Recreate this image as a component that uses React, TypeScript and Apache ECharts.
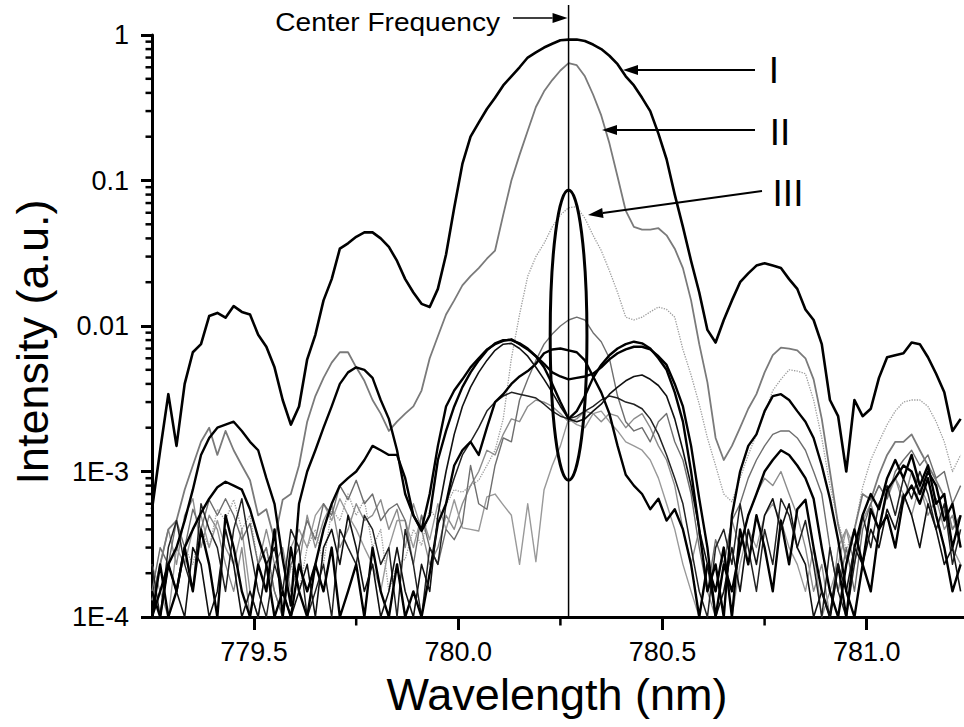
import React, { useEffect, useRef } from 'react';
import * as echarts from 'echarts';

// Sampling grid of the spectra (nm)
const WL_START = 779.25;
const WL_STEP = 0.02;
const WAVELENGTHS = Array.from({ length: 100 }, (_, i) => +(WL_START + WL_STEP * i).toFixed(2));

const CENTER_WL = 780.27;
const X_MIN = 779.25;
const X_MAX = 781.25;
const Y_MIN = 1e-4;
const Y_MAX = 1;
const Y_TICK_LABELS: Record<string, string> = { '0': '1', '-1': '0.1', '-2': '0.01', '-3': '1E-3', '-4': '1E-4' };
const X_MINOR_TICKS = [779.75, 780.25, 780.75];

// Curve I (thick black)
const I_VALUES = [
  5.5e-4, 1.4e-3, 3.4e-3, 1.5e-3, 4e-3, 6.6e-3, 7.5e-3, 0.0117, 0.0123, 0.0114,
  0.0137, 0.0125, 0.012, 0.0087, 0.0072, 0.0052, 0.0031, 0.0021, 0.0028, 0.0059,
  0.0087, 0.015, 0.021, 0.034, 0.037, 0.041, 0.044, 0.044, 0.04, 0.035,
  0.028, 0.021, 0.017, 0.0142, 0.0135, 0.018, 0.031, 0.065, 0.13, 0.2,
  0.25, 0.31, 0.37, 0.45, 0.52, 0.6, 0.7, 0.76, 0.82, 0.87,
  0.92, 0.93, 0.93, 0.91, 0.86, 0.8, 0.72, 0.63, 0.52, 0.45,
  0.37, 0.3, 0.21, 0.14, 0.08, 0.048, 0.028, 0.017, 0.0094, 0.0077,
  0.011, 0.015, 0.02, 0.023, 0.026, 0.027, 0.026, 0.025, 0.021, 0.018,
  0.013, 0.011, 0.0075, 0.0031, 0.0024, 0.001, 0.0031, 0.0024, 0.0027, 0.0044,
  0.0061, 0.0063, 0.0065, 0.0077, 0.0075, 0.0061, 0.0047, 0.0035, 0.0019, 0.0023,
];

// Curve II (grey)
const II_VALUES = [
  1.3e-4, 2.3e-4, 4e-4, 4.6e-4, 7.5e-4, 1.1e-3, 1.6e-3, 2e-3, 1.3e-3, 1.9e-3,
  1.4e-3, 1.1e-3, 8.7e-4, 5e-4, 5.5e-4, 3.4e-4, 6.4e-4, 7e-4, 1.1e-3, 2.2e-3,
  3.3e-3, 4.4e-3, 5.6e-3, 6.6e-3, 6.6e-3, 5.2e-3, 4.2e-3, 3.1e-3, 2.5e-3, 1.9e-3,
  2.2e-3, 2.5e-3, 2.8e-3, 3.6e-3, 6e-3, 8.5e-3, 0.012, 0.015, 0.019, 0.022,
  0.025, 0.029, 0.033, 0.058, 0.1, 0.15, 0.22, 0.32, 0.41, 0.49,
  0.57, 0.64, 0.62, 0.52, 0.39, 0.28, 0.18, 0.106, 0.062, 0.048,
  0.046, 0.046, 0.047, 0.042, 0.034, 0.025, 0.015, 0.0075, 0.0041, 0.0017,
  0.0012, 0.0015, 0.002, 0.0027, 0.0034, 0.0048, 0.0063, 0.0071, 0.007, 0.0068,
  0.006, 0.0043, 0.0023, 0.001, 4.3e-4, 2.5e-4, 4e-4, 7e-4, 6.4e-4, 9.5e-4,
  1.3e-3, 1.6e-3, 1.6e-3, 1.8e-3, 1.4e-3, 1.1e-3, 8.7e-4, 6.7e-4, 4e-4, 5e-4,
];

// Dotted light grey curve
const D_VALUES = [
  1e-4, 1.5e-4, 2.3e-4, 1.5e-4, 3e-4, 2.3e-4, 4e-4, 3e-4, 5.5e-4, 4.6e-4,
  6.4e-4, 4e-4, 5e-4, 2.3e-4, 3e-4, 1.5e-4, 1e-4, 2.3e-4, 1.5e-4, 3e-4,
  4e-4, 2.3e-4, 5.5e-4, 4.6e-4, 7e-4, 5e-4, 6.4e-4, 3e-4, 4e-4, 1.5e-4,
  2.3e-4, 2.5e-4, 4e-4, 3.1e-4, 5.5e-4, 4.6e-4, 5.9e-4, 7.5e-4, 7.2e-4, 8e-4,
  8.7e-4, 1.1e-3, 1.4e-3, 2.3e-3, 6e-3, 0.012, 0.022, 0.03, 0.037, 0.048,
  0.058, 0.065, 0.066, 0.055, 0.042, 0.033, 0.024, 0.017, 0.0115, 0.011,
  0.0115, 0.0125, 0.0135, 0.013, 0.0115, 0.0069, 0.0046, 0.0029, 0.0017, 0.0011,
  7e-4, 6.2e-4, 9e-4, 1.3e-3, 1.8e-3, 2.5e-3, 3.6e-3, 4.3e-3, 5e-3, 4.9e-3,
  4.7e-3, 3.1e-3, 1.7e-3, 8e-4, 4.5e-4, 2.9e-4, 4e-4, 7.8e-4, 1.2e-3, 1.6e-3,
  2.1e-3, 2.6e-3, 3e-3, 3.1e-3, 3.1e-3, 2.8e-3, 2.2e-3, 1.6e-3, 1e-3, 1.3e-3,
];

// Thick black curve with V-shaped centre dip
const K1_VALUES = [
  1e-4, 1.5e-4, 2.3e-4, 3e-4, 4.6e-4, 7.5e-4, 1.3e-3, 1.7e-3, 2e-3, 2.1e-3,
  2.2e-3, 1.9e-3, 1.6e-3, 1.4e-3, 9e-4, 6e-4, 2.5e-4, 1.2e-4, 6e-4, 1e-3,
  1.4e-3, 2e-3, 2.8e-3, 4e-3, 4.8e-3, 5.2e-3, 5e-3, 4.4e-3, 3.1e-3, 2.3e-3,
  1.4e-3, 7e-4, 5e-4, 4e-4, 7e-4, 1.5e-3, 2.8e-3, 3.6e-3, 4.3e-3, 5.2e-3,
  6e-3, 6.9e-3, 7.5e-3, 7.9e-3, 8.1e-3, 7.5e-3, 6.9e-3, 6.2e-3, 5.2e-3, 4e-3,
  3e-3, 2.3e-3, 2.6e-3, 3.3e-3, 4.4e-3, 5.4e-3, 6.3e-3, 7e-3, 7.5e-3, 7.8e-3,
  7.6e-3, 7e-3, 6e-3, 5e-3, 3.5e-3, 2.2e-3, 1e-3, 4e-4, 1.5e-4, 2.3e-4,
  1e-4, 5e-4, 1e-3, 1.5e-3, 1.8e-3, 2.6e-3, 3.3e-3, 3.4e-3, 3.1e-3, 2.6e-3,
  2.2e-3, 1.7e-3, 1.1e-3, 6.5e-4, 3.4e-4, 1.5e-4, 1e-4, 2.3e-4, 1.5e-4, 4e-4,
  5e-4, 3e-4, 6.5e-4, 8e-4, 6e-4, 9e-4, 5e-4, 3e-4, 1.5e-4, 2.3e-4,
];

// Thick black curve with flat centre
const K2_VALUES = [
  1.5e-4, 1e-4, 2.3e-4, 1.5e-4, 3e-4, 4e-4, 5.2e-4, 6.5e-4, 7.8e-4, 8.5e-4,
  8e-4, 7.5e-4, 5.5e-4, 3.5e-4, 2.3e-4, 1e-4, 1.5e-4, 1e-4, 2.3e-4, 1.5e-4,
  2.3e-4, 4e-4, 6e-4, 8e-4, 9e-4, 1e-3, 1.2e-3, 1.5e-3, 1.4e-3, 1.3e-3,
  1.3e-3, 9e-4, 5e-4, 3.9e-4, 5e-4, 1.2e-3, 1.9e-3, 2.8e-3, 3.8e-3, 4.8e-3,
  5.8e-3, 6.8e-3, 7.6e-3, 8e-3, 8e-3, 7.6e-3, 7e-3, 6.2e-3, 5.5e-3, 4.8e-3,
  4.5e-3, 4.3e-3, 4.4e-3, 4.5e-3, 4.7e-3, 5.2e-3, 5.9e-3, 6.5e-3, 6.9e-3, 7.2e-3,
  7.2e-3, 6.9e-3, 6.2e-3, 5.4e-3, 4e-3, 2.8e-3, 1.5e-3, 6.5e-4, 3e-4, 1e-4,
  2.3e-4, 1.5e-4, 3e-4, 5e-4, 7e-4, 1e-3, 1.2e-3, 1.4e-3, 1.3e-3, 1.1e-3,
  9e-4, 6.5e-4, 3e-4, 1.5e-4, 1e-4, 2.3e-4, 4e-4, 2.3e-4, 5.5e-4, 4e-4,
  7.5e-4, 9e-4, 1.1e-3, 1e-3, 7e-4, 1e-3, 8e-4, 4.6e-4, 6e-4, 3e-4,
];

// Thick black curve with centre bump
const K3_VALUES = [
  1e-4, 2.3e-4, 1e-4, 1.5e-4, 3e-4, 1.5e-4, 4e-4, 2.3e-4, 1e-4, 5e-4,
  3e-4, 1.5e-4, 1e-4, 2.3e-4, 1.5e-4, 4e-4, 1e-4, 3e-4, 1.5e-4, 1e-4,
  2.3e-4, 1.5e-4, 3e-4, 1e-4, 1.5e-4, 2.3e-4, 1e-4, 3e-4, 1.5e-4, 1e-4,
  2.3e-4, 1e-4, 1.5e-4, 1e-4, 2e-4, 4.4e-4, 6e-4, 1.1e-3, 1.4e-3, 1.6e-3,
  1.3e-3, 2e-3, 3e-3, 3.4e-3, 4e-3, 4.5e-3, 4.9e-3, 5.5e-3, 6.5e-3, 6.9e-3,
  7e-3, 6.8e-3, 6.6e-3, 5.8e-3, 4.5e-3, 3.5e-3, 2.5e-3, 1.5e-3, 9.5e-4, 8e-4,
  7e-4, 5.5e-4, 6.5e-4, 4.6e-4, 5.5e-4, 4e-4, 2.3e-4, 1e-4, 2.3e-4, 1.5e-4,
  3e-4, 1e-4, 4e-4, 2.3e-4, 5e-4, 3e-4, 1.5e-4, 4.6e-4, 2.3e-4, 5.5e-4,
  6.4e-4, 3e-4, 1.5e-4, 1e-4, 2.3e-4, 1e-4, 3e-4, 5e-4, 7e-4, 5.5e-4,
  9e-4, 1.2e-3, 9e-4, 1.3e-3, 8e-4, 1.1e-3, 6e-4, 7e-4, 3e-4, 5e-4,
];

// Thinner black curve, centre dip
const K4_VALUES = [
  1e-4, 1e-4, 2.3e-4, 1.5e-4, 1e-4, 3e-4, 2.3e-4, 1e-4, 1.5e-4, 4e-4,
  2.3e-4, 1e-4, 1.5e-4, 1e-4, 2.3e-4, 3e-4, 1.5e-4, 1e-4, 1.5e-4, 2.3e-4,
  1e-4, 3e-4, 4e-4, 2.3e-4, 5e-4, 3e-4, 1.5e-4, 2.3e-4, 1e-4, 1.5e-4,
  3e-4, 1.5e-4, 1e-4, 2.3e-4, 1.5e-4, 5e-4, 1e-3, 1.8e-3, 2.8e-3, 3.8e-3,
  4.8e-3, 5.8e-3, 6.8e-3, 7.5e-3, 7.6e-3, 7e-3, 6.2e-3, 5.2e-3, 4.3e-3, 3.5e-3,
  2.8e-3, 2.3e-3, 2.2e-3, 2.3e-3, 2.6e-3, 2.9e-3, 3.4e-3, 3.8e-3, 4.2e-3, 4.5e-3,
  4.6e-3, 4.3e-3, 3.9e-3, 3.3e-3, 2.3e-3, 1.4e-3, 8e-4, 4e-4, 2.3e-4, 1e-4,
  1.5e-4, 3e-4, 1.5e-4, 4e-4, 2.3e-4, 5e-4, 6.5e-4, 4e-4, 6e-4, 3e-4,
  2.3e-4, 1e-4, 1.5e-4, 1e-4, 2.3e-4, 1.5e-4, 3e-4, 2.3e-4, 4e-4, 3e-4,
  5.5e-4, 4e-4, 7e-4, 5e-4, 3e-4, 6e-4, 4e-4, 2.3e-4, 3e-4, 1.5e-4,
];

// Thin grey curve with centre peak
const T1_VALUES = [
  1.5e-4, 3e-4, 2.3e-4, 4.6e-4, 3e-4, 5.5e-4, 4e-4, 6.4e-4, 5e-4, 6.5e-4,
  5e-4, 3.4e-4, 4.4e-4, 2.3e-4, 3e-4, 1.5e-4, 1e-4, 2.3e-4, 3e-4, 4.6e-4,
  3.4e-4, 6e-4, 5e-4, 8e-4, 6.4e-4, 8.7e-4, 6e-4, 7e-4, 4.6e-4, 5.5e-4,
  6e-4, 4.6e-4, 2.3e-4, 5e-4, 3e-4, 2.3e-4, 4e-4, 3.4e-4, 4.4e-4, 1.1e-3,
  6e-4, 5.5e-4, 1.1e-3, 1.7e-3, 1.6e-3, 3.1e-3, 4.3e-3, 5.8e-3, 7.5e-3, 8.8e-3,
  0.01, 0.011, 0.0115, 0.011, 9e-3, 7.8e-3, 6e-3, 3.3e-3, 2.2e-3, 1.9e-3,
  2e-3, 1.6e-3, 2.2e-3, 2.5e-3, 1.6e-3, 1.2e-3, 7e-4, 3e-4, 1.5e-4, 3.4e-4,
  2.3e-4, 4.6e-4, 6e-4, 9e-4, 1.2e-3, 1.5e-3, 1.8e-3, 1.9e-3, 1.9e-3, 1.7e-3,
  1.4e-3, 1e-3, 7e-4, 3e-4, 1.5e-4, 3e-4, 1.5e-4, 4e-4, 6e-4, 8e-4,
  6.5e-4, 1e-3, 1.2e-3, 1.4e-3, 1.1e-3, 1.3e-3, 9e-4, 1e-3, 6e-4, 8e-4,
];

// Lower noisy grey curve
const G2_VALUES = [
  2.3e-4, 1.5e-4, 1e-4, 3e-4, 2.3e-4, 4e-4, 5e-4, 3e-4, 4.6e-4, 3e-4,
  2.3e-4, 4e-4, 1.5e-4, 1e-4, 2.3e-4, 1.5e-4, 1e-4, 3e-4, 4e-4, 3e-4,
  5e-4, 6e-4, 4.6e-4, 6.5e-4, 5e-4, 4e-4, 3e-4, 2.3e-4, 1.5e-4, 3e-4,
  4.6e-4, 4.6e-4, 3e-4, 5e-4, 3.4e-4, 6e-4, 4e-4, 6.4e-4, 4.1e-4, 4e-4,
  3.9e-4, 6.7e-4, 7e-4, 5.9e-4, 5e-4, 2.3e-4, 6e-4, 2.4e-4, 7.5e-4, 1.1e-3,
  1.5e-3, 2.3e-3, 2.1e-3, 2e-3, 2.5e-3, 2.6e-3, 2.2e-3, 1.9e-3, 1.6e-3, 1.5e-3,
  1.4e-3, 1.2e-3, 9e-4, 6e-4, 4e-4, 2.3e-4, 1.5e-4, 1e-4, 2.3e-4, 1.5e-4,
  3e-4, 1e-4, 2.3e-4, 4e-4, 3e-4, 5e-4, 6e-4, 4.6e-4, 3e-4, 2.3e-4,
  1.5e-4, 3e-4, 1e-4, 1.5e-4, 2.3e-4, 4e-4, 3e-4, 4.6e-4, 6e-4, 8e-4,
  6.5e-4, 9e-4, 7e-4, 5e-4, 8e-4, 6e-4, 4e-4, 5.5e-4, 3e-4, 2.3e-4,
];

// Additional thin black noisy curve
const N1_VALUES = [
  2.3e-4, 1e-4, 3e-4, 4.6e-4, 2.3e-4, 1.5e-4, 6e-4, 4e-4, 3e-4, 1.5e-4,
  4e-4, 6.5e-4, 3e-4, 1.5e-4, 1e-4, 2.3e-4, 1.5e-4, 4e-4, 3e-4, 1e-4,
  1.5e-4, 2.3e-4, 1e-4, 4e-4, 3e-4, 2.3e-4, 5e-4, 4e-4, 2.3e-4, 3e-4,
  1e-4, 4e-4, 2.3e-4, 1e-4, 3e-4, 2.3e-4, 6e-4, 9e-4, 1.3e-3, 1.6e-3,
  2e-3, 2.6e-3, 3e-3, 3.3e-3, 3.5e-3, 3.4e-3, 3.3e-3, 3.2e-3, 2.9e-3, 2.6e-3,
  2.4e-3, 2.3e-3, 2.4e-3, 2.6e-3, 2.8e-3, 3.1e-3, 3.3e-3, 3.2e-3, 3e-3, 2.9e-3,
  2.7e-3, 2.3e-3, 1.8e-3, 1.3e-3, 9e-4, 6e-4, 3e-4, 1.5e-4, 1e-4, 3e-4,
  4e-4, 2.3e-4, 6e-4, 3e-4, 1.5e-4, 4e-4, 2.3e-4, 6.5e-4, 5e-4, 3e-4,
  4.6e-4, 2.3e-4, 1e-4, 3e-4, 1.5e-4, 1e-4, 2.3e-4, 5e-4, 3e-4, 6e-4,
  8e-4, 5e-4, 9e-4, 6.5e-4, 1e-3, 7e-4, 4e-4, 6e-4, 2.3e-4, 4e-4,
];

// Additional grey noisy curve
const N2_VALUES = [
  1e-4, 2.3e-4, 4e-4, 2.3e-4, 5e-4, 6.5e-4, 3e-4, 5e-4, 4e-4, 2.3e-4,
  1.5e-4, 3e-4, 1e-4, 2.3e-4, 4e-4, 2.3e-4, 3e-4, 1.5e-4, 2.3e-4, 5e-4,
  3e-4, 4.6e-4, 6e-4, 3e-4, 4e-4, 6e-4, 4.6e-4, 5e-4, 6.4e-4, 4e-4,
  5.5e-4, 3e-4, 6e-4, 4e-4, 2.3e-4, 3e-4, 5e-4, 4e-4, 6e-4, 8e-4,
  1e-3, 1.4e-3, 1.3e-3, 1.8e-3, 2.3e-3, 2.2e-3, 2.8e-3, 3.1e-3, 3e-3, 2.8e-3,
  2.5e-3, 2.2e-3, 2.3e-3, 2.6e-3, 2.5e-3, 2.2e-3, 2.5e-3, 2.4e-3, 2e-3, 2.3e-3,
  2.5e-3, 2e-3, 1.5e-3, 1.2e-3, 8e-4, 4e-4, 2.3e-4, 4e-4, 1.5e-4, 1e-4,
  2.3e-4, 4.6e-4, 3e-4, 5e-4, 7e-4, 9e-4, 8e-4, 1e-3, 7e-4, 5e-4,
  3e-4, 1.5e-4, 2.3e-4, 1e-4, 3e-4, 4e-4, 2.3e-4, 4.6e-4, 6e-4, 4e-4,
  7e-4, 9e-4, 6e-4, 1e-3, 8e-4, 5e-4, 6.5e-4, 4e-4, 5e-4, 3e-4,
];

const SERIES_DEFS = [
  { name: 'D', values: D_VALUES, color: '#9c9c9c', width: 1.3, dash: 'dotted' },
  { name: 'N2', values: N2_VALUES, color: '#8c8c8c', width: 1.4, dash: 'solid' },
  { name: 'G2', values: G2_VALUES, color: '#999999', width: 1.4, dash: 'solid' },
  { name: 'T1', values: T1_VALUES, color: '#6e6e6e', width: 1.4, dash: 'solid' },
  { name: 'II', values: II_VALUES, color: '#7a7a7a', width: 1.8, dash: 'solid' },
  { name: 'N1', values: N1_VALUES, color: '#222222', width: 1.5, dash: 'solid' },
  { name: 'K3', values: K3_VALUES, color: '#000000', width: 2.4, dash: 'solid' },
  { name: 'K4', values: K4_VALUES, color: '#111111', width: 1.6, dash: 'solid' },
  { name: 'K2', values: K2_VALUES, color: '#000000', width: 2.4, dash: 'solid' },
  { name: 'K1', values: K1_VALUES, color: '#000000', width: 2.4, dash: 'solid' },
  { name: 'I', values: I_VALUES, color: '#000000', width: 2.6, dash: 'solid' },
];

// Ellipse marking group III (data coordinates)
const ELLIPSE_Y = [8.7e-4, 0.086];
const ELLIPSE_HALF_WL = 0.045;

const FONT = '"Liberation Sans", Arial, Helvetica, sans-serif';

export default function App() {
  const ref = useRef<HTMLDivElement>(null);

  useEffect(() => {
    if (!ref.current) return;
    const chart = echarts.init(ref.current, null, { renderer: 'svg' });

    chart.setOption({
      animation: false,
      backgroundColor: '#ffffff',
      grid: { left: 152, top: 35, width: 816.8, height: 582, containLabel: false, outerBoundsMode: 'none' },
      xAxis: {
        type: 'value',
        min: X_MIN,
        max: X_MAX,
        splitNumber: 4,
        axisLine: { show: true, lineStyle: { color: '#000', width: 3 } },
        axisTick: { show: true, inside: false, length: 13, lineStyle: { color: '#000', width: 3 } },
        axisLabel: {
          show: true,
          margin: 21,
          color: '#000',
          fontSize: 27,
          fontFamily: FONT,
          showMinLabel: false,
          showMaxLabel: false,
          formatter: (v: number) => v.toFixed(1),
        },
        splitLine: { show: false },
      },
      yAxis: {
        type: 'log',
        logBase: 10,
        min: Y_MIN,
        max: Y_MAX,
        axisLine: { show: true, lineStyle: { color: '#000', width: 3 } },
        axisTick: { show: true, inside: false, length: 11, lineStyle: { color: '#000', width: 3 } },
        axisLabel: {
          margin: 23,
          color: '#000',
          fontSize: 27,
          fontFamily: FONT,
          formatter: (v: number) => Y_TICK_LABELS[String(Math.round(Math.log10(v)))] ?? '',
        },
        splitLine: { show: false },
      },
      series: SERIES_DEFS.map((s) => ({
        name: s.name,
        type: 'line',
        showSymbol: false,
        symbol: 'none',
        clip: true,
        data: s.values.map((v, i) => [WAVELENGTHS[i], v]),
        lineStyle: { color: s.color, width: s.width, type: s.dash, join: 'round' },
        emphasis: { disabled: true },
      })),
    });

    const px = (x: number) => chart.convertToPixel({ xAxisIndex: 0 }, x) as number;
    const py = (y: number) => chart.convertToPixel({ yAxisIndex: 0 }, y) as number;

    const axisX = px(X_MIN);
    const axisY = py(Y_MIN);
    const cx = px(CENTER_WL);
    const graphics: any[] = [];

    // minor ticks (y: 2..9 in each decade; x: half-way between labels)
    for (let d = -4; d <= -1; d++) {
      for (let k = 2; k <= 9; k++) {
        const y = py(k * Math.pow(10, d));
        graphics.push({ type: 'rect', shape: { x: axisX - 6.5, y: y - 1.25, width: 6.5, height: 2.5 }, style: { fill: '#000' } });
      }
    }
    X_MINOR_TICKS.forEach((v) => {
      const x = px(v);
      graphics.push({ type: 'rect', shape: { x: x - 1.25, y: axisY, width: 2.5, height: 8.5 }, style: { fill: '#000' } });
    });

    // centre frequency line
    graphics.push({ type: 'line', z: 50, shape: { x1: cx, y1: 5, x2: cx, y2: axisY }, style: { stroke: '#000', lineWidth: 1.5 } });

    // ellipse around group III
    const eTop = py(ELLIPSE_Y[1]);
    const eBot = py(ELLIPSE_Y[0]);
    const eL = px(CENTER_WL - ELLIPSE_HALF_WL);
    const eR = px(CENTER_WL + ELLIPSE_HALF_WL);
    graphics.push({
      type: 'ellipse',
      z: 50,
      shape: { cx: (eL + eR) / 2, cy: (eTop + eBot) / 2, rx: (eR - eL) / 2, ry: (eBot - eTop) / 2 },
      style: { fill: 'none', stroke: '#000', lineWidth: 3 },
    });

    const arrow = (x1: number, y1: number, x2: number, y2: number, lw = 2) => {
      const ang = Math.atan2(y2 - y1, x2 - x1);
      const hl = 15;
      const hw = 5;
      const bx = x2 - hl * Math.cos(ang);
      const by = y2 - hl * Math.sin(ang);
      const nx = -Math.sin(ang);
      const ny = Math.cos(ang);
      graphics.push({ type: 'line', z: 50, shape: { x1, y1, x2: bx, y2: by }, style: { stroke: '#000', lineWidth: lw } });
      graphics.push({
        type: 'polygon',
        z: 50,
        shape: { points: [[x2, y2], [bx + nx * hw, by + ny * hw], [bx - nx * hw, by - ny * hw]] },
        style: { fill: '#000' },
      });
    };

    // Centre frequency label + arrow
    graphics.push({
      type: 'text',
      z: 50,
      x: 500,
      y: 22,
      scaleX: 1.08,
      style: { text: 'Center Frequency', fill: '#000', font: `26px ${FONT}`, align: 'right', verticalAlign: 'middle' },
    });
    arrow(513, 18, cx - 1, 18, 1.5);

    // I, II, III labels and arrows
    arrow(755, 70, 623, 70);
    arrow(755, 130, 602, 130);
    arrow(762, 191, 588, 215);
    graphics.push({ type: 'text', z: 50, x: 774, y: 70, style: { text: 'I', fill: '#000', font: `37px ${FONT}`, align: 'center', verticalAlign: 'middle' } });
    graphics.push({ type: 'text', z: 50, x: 780, y: 132, style: { text: 'II', fill: '#000', font: `37px ${FONT}`, align: 'center', verticalAlign: 'middle' } });
    graphics.push({ type: 'text', z: 50, x: 788, y: 193, style: { text: 'III', fill: '#000', font: `37px ${FONT}`, align: 'center', verticalAlign: 'middle' } });

    // Axis titles
    graphics.push({
      type: 'text',
      z: 50,
      x: 557,
      y: 694,
      style: { text: 'Wavelength (nm)', fill: '#000', font: `45px ${FONT}`, align: 'center', verticalAlign: 'middle' },
    });
    graphics.push({
      type: 'text',
      z: 50,
      x: 32,
      y: 342,
      rotation: Math.PI / 2,
      style: { text: 'Intensity (a.u.)', fill: '#000', font: `45px ${FONT}`, align: 'center', verticalAlign: 'middle' },
    });

    chart.setOption({ graphic: graphics });

    return () => chart.dispose();
  }, []);

  return <div ref={ref} style={{ position: 'fixed', left: 0, top: 0, width: 964, height: 727 }} />;
}
